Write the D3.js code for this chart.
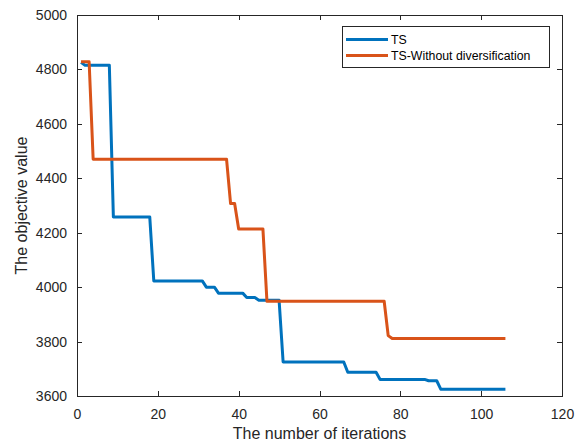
<!DOCTYPE html>
<html lang="en">
<head>
    <meta charset="UTF-8">
    <title>Objective value vs iterations</title>
    <script src="https://cdnjs.cloudflare.com/ajax/libs/d3/7.8.5/d3.min.js"></script>
    <style>
        body {
            margin: 0;
            background: #fff;
            font-family: Arial, "Liberation Sans", sans-serif;
        }
        .tick-label {
            font-size: 14px;
            fill: #262626;
        }
        .axis-label {
            font-size: 16px;
            fill: #262626;
        }
        .legend-text {
            font-size: 12.3px;
            fill: #000;
        }
    </style>
</head>
<body>
    <div id="chart"></div>

    <script>
        // step breakpoints (iteration, objective value)
        const tsIter = [1, 2, 8, 9, 18, 19, 31, 32, 34, 35, 41, 42, 44, 45, 50, 51, 66, 67, 74, 75, 86, 87, 89, 90, 106];
        const tsValue = [4826, 4815, 4815, 4258, 4258, 4023, 4023, 4000, 4000, 3978, 3978, 3962, 3962, 3952, 3952, 3725, 3725, 3687, 3687, 3661, 3661, 3656, 3656, 3625, 3625];

        const noDivIter = [1, 3, 4, 37, 38, 39, 40, 46, 47, 76, 77, 78, 106];
        const noDivValue = [4828, 4828, 4470, 4470, 4307, 4307, 4214, 4214, 3948, 3948, 3822, 3811, 3811];

        const xTicks = [0, 20, 40, 60, 80, 100, 120];
        const yTicks = [3600, 3800, 4000, 4200, 4400, 4600, 4800, 5000];

        const seriesNames = ["TS", "TS-Without diversification"];
        const seriesColors = ["#0072BD", "#D95319"];

        const W = 585, H = 443;
        const margin = {top: 15, right: 23, bottom: 47, left: 77};
        const width = W - margin.left - margin.right;
        const height = H - margin.top - margin.bottom;

        const svg = d3.select("#chart")
            .append("svg")
            .attr("width", W)
            .attr("height", H);

        const g = svg.append("g")
            .attr("transform", `translate(${margin.left},${margin.top})`);

        const x = d3.scaleLinear().domain([0, 120]).range([0, width]);
        const y = d3.scaleLinear().domain([3600, 5000]).range([height, 0]);

        // box-style axes with inward ticks on all sides
        const tickLen = 5;
        g.append("g")
            .attr("transform", `translate(0,${height})`)
            .call(d3.axisBottom(x).tickValues(xTicks).tickSize(-tickLen).tickPadding(tickLen + 8).tickFormat(d3.format("d")))
            .call(a => a.selectAll("text").attr("class", "tick-label").attr("font-size", null).attr("font-family", null));
        g.append("g")
            .call(d3.axisTop(x).tickValues(xTicks).tickSize(-tickLen).tickFormat(""));
        g.append("g")
            .call(d3.axisLeft(y).tickValues(yTicks).tickSize(-tickLen).tickPadding(tickLen + 5).tickFormat(d3.format("d")))
            .call(a => a.selectAll("text").attr("class", "tick-label").attr("font-size", null).attr("font-family", null));
        g.append("g")
            .attr("transform", `translate(${width},0)`)
            .call(d3.axisRight(y).tickValues(yTicks).tickSize(-tickLen).tickFormat(""));

        g.selectAll(".domain, .tick line")
            .attr("stroke", "#262626")
            .attr("stroke-width", 1)
            .attr("shape-rendering", "crispEdges");

        const line = d3.line()
            .x(d => x(d[0]))
            .y(d => y(d[1]));

        const tsData = tsIter.map((t, i) => [t, tsValue[i]]);
        const noDivData = noDivIter.map((t, i) => [t, noDivValue[i]]);

        [tsData, noDivData].forEach((d, i) => {
            g.append("path")
                .datum(d)
                .attr("fill", "none")
                .attr("stroke", seriesColors[i])
                .attr("stroke-width", 3)
                .attr("stroke-linejoin", "round")
                .attr("d", line);
        });

        // axis labels
        svg.append("text")
            .attr("class", "axis-label")
            .attr("x", margin.left + width / 2)
            .attr("y", 439)
            .attr("text-anchor", "middle")
            .text("The number of iterations");

        svg.append("text")
            .attr("class", "axis-label")
            .attr("transform", `translate(27,${margin.top + height / 2}) rotate(-90)`)
            .attr("text-anchor", "middle")
            .text("The objective value");

        // legend
        const legend = svg.append("g").attr("transform", "translate(342,26)");
        legend.append("rect")
            .attr("width", 207)
            .attr("height", 41)
            .attr("fill", "#fff")
            .attr("stroke", "#262626")
            .attr("stroke-width", 1)
            .attr("shape-rendering", "crispEdges");
        seriesNames.forEach((name, i) => {
            const ly = 13.5 + i * 16;
            legend.append("line")
                .attr("x1", 4).attr("x2", 46)
                .attr("y1", ly).attr("y2", ly)
                .attr("stroke", seriesColors[i])
                .attr("stroke-width", 3);
            legend.append("text")
                .attr("class", "legend-text")
                .attr("x", 49)
                .attr("y", ly + 4.5)
                .text(name);
        });
    </script>
</body>
</html>
